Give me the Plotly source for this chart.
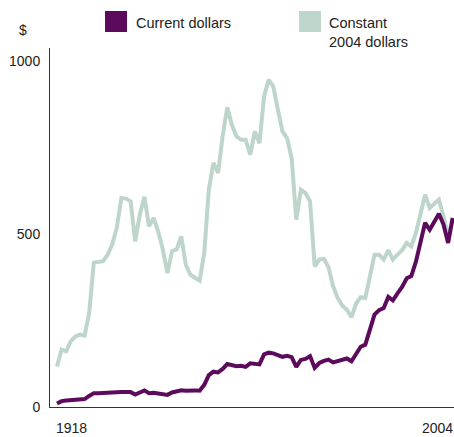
import plotly.graph_objects as go

years = list(range(1918, 2005))

current_dollars = [
    10, 17, 19, 20, 21, 22, 23, 32, 40, 40,
    41, 42, 42, 43, 43, 43, 43, 36, 42, 48,
    40, 41, 39, 37, 35, 42, 44, 48, 47, 48,
    48, 47, 64, 92, 102, 100, 110, 124, 120, 118,
    119, 116, 126, 125, 123, 152, 157, 155, 149, 145,
    148, 144, 116, 136, 139, 147, 113, 127, 133, 137,
    129, 133, 137, 140, 132, 155, 174, 180, 220, 267,
    280, 286, 318, 308, 328, 347, 372, 378, 420, 476,
    532, 512, 536, 558, 527, 474, 546,
]

constant_2004_dollars = [
    117, 166, 161, 190, 204, 209, 206, 272, 417, 418,
    421, 440, 469, 518, 604, 602, 594, 478, 556, 607,
    522, 546, 507, 455, 387, 450, 455, 493, 411, 382,
    373, 365, 445, 628, 705, 676, 782, 866, 815, 782,
    772, 772, 729, 796, 762, 897, 945, 926, 859, 796,
    777, 719, 541, 628, 618, 594, 406, 426, 428, 404,
    349, 315, 293, 281, 259, 299, 317, 315, 377, 440,
    440, 426, 453, 426, 440, 453, 474, 464, 503, 560,
    613, 575, 589, 599, 551, 490, 546,
]

y_ticks = [0, 500, 1000]
x_labels = ["1918", "2004"]

PURPLE = "#5c0b5c"
GREEN = "#bed5cb"
TEXT = "#222222"

W, H = 454, 437
ML, MR, MT, MB = 50, 0, 48, 30
PW, PH = W - ML - MR, H - MT - MB


def px(x):
    return (x - ML) / PW


def py(y):
    return (H - MB - y) / PH


fig = go.Figure()
fig.add_trace(go.Scatter(x=years, y=constant_2004_dollars, mode="lines",
                         line=dict(color=GREEN, width=4), hoverinfo="skip",
                         name="Constant 2004 dollars"))
fig.add_trace(go.Scatter(x=years, y=current_dollars, mode="lines",
                         line=dict(color=PURPLE, width=4), hoverinfo="skip",
                         name="Current dollars"))

fig.update_layout(
    width=W, height=H,
    margin=dict(l=ML, r=MR, t=MT, b=MB, pad=0),
    paper_bgcolor="white", plot_bgcolor="white",
    showlegend=False,
    font=dict(family="Liberation Sans, Arial, sans-serif", size=14, color=TEXT),
    xaxis=dict(range=[1916.48, 2004.28], showgrid=False, zeroline=False,
               showline=True, linecolor="#333333", linewidth=1,
               showticklabels=False, ticks=""),
    yaxis=dict(range=[0, 1037], showgrid=False, zeroline=False,
               showline=True, linecolor="#333333", linewidth=1,
               tickvals=y_ticks, ticktext=[str(v) for v in y_ticks],
               ticks="", ticklabelstandoff=6,
               tickfont=dict(size=14, color=TEXT)),
)

annotations = [
    dict(x=px(23), y=py(30), xref="paper", yref="paper", text="$",
         showarrow=False, xanchor="center", yanchor="middle",
         font=dict(size=14, color=TEXT)),
    dict(x=years[0], y=py(428), xref="x", yref="paper", text=x_labels[0],
         showarrow=False, xanchor="left", yanchor="middle", xshift=-3,
         font=dict(size=14, color=TEXT)),
    dict(x=years[-1], y=py(428), xref="x", yref="paper", text=x_labels[1],
         showarrow=False, xanchor="right", yanchor="middle", xshift=2,
         font=dict(size=14, color=TEXT)),
    dict(x=px(134), y=py(23), xref="paper", yref="paper", text="Current dollars",
         showarrow=False, xanchor="left", yanchor="middle",
         font=dict(size=14.5, color=TEXT)),
    dict(x=px(327), y=py(32), xref="paper", yref="paper",
         text="Constant<br>2004 dollars", align="left",
         showarrow=False, xanchor="left", yanchor="middle",
         font=dict(size=14.5, color=TEXT)),
]
fig.update_layout(annotations=annotations)

shapes = [
    dict(type="rect", xref="paper", yref="paper",
         x0=px(105), x1=px(127), y0=py(32), y1=py(11),
         fillcolor=PURPLE, line=dict(width=0)),
    dict(type="rect", xref="paper", yref="paper",
         x0=px(299), x1=px(321), y0=py(32), y1=py(11),
         fillcolor=GREEN, line=dict(width=0)),
]
fig.update_layout(shapes=shapes)

fig.write_html("out.html",
               config={"displayModeBar": False, "staticPlot": True},
               post_script="document.body.style.margin='0';document.body.style.overflow='hidden';")
